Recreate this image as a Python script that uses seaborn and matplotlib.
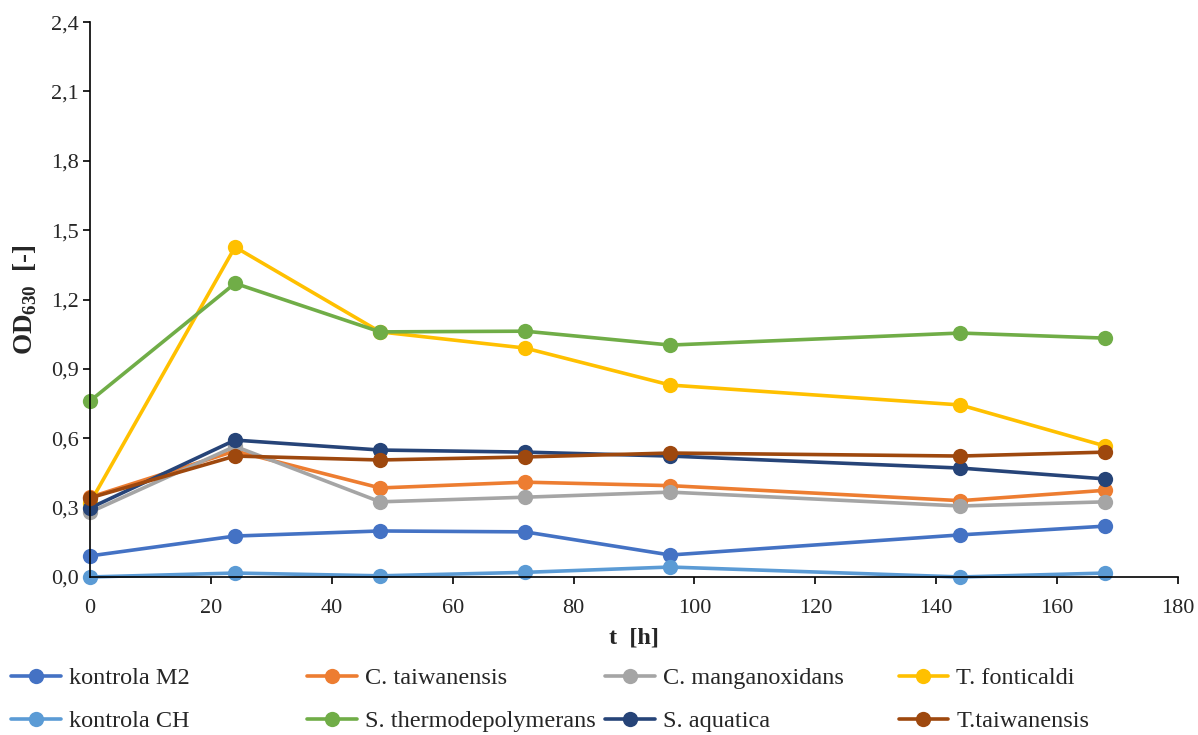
import pandas as pd
import matplotlib.pyplot as plt
import seaborn as sns
from matplotlib.lines import Line2D
from matplotlib.ticker import FuncFormatter

# time points [h]
t = [0, 24, 48, 72, 96, 144, 168]

series_names = ['kontrola M2', 'C. taiwanensis', 'C. manganoxidans', 'T. fonticaldi',
                'kontrola CH', 'S. thermodepolymerans', 'S. aquatica', 'T.taiwanensis']

kontrola_m2 = [0.091, 0.177, 0.199, 0.195, 0.095, 0.182, 0.220]
c_taiwanensis = [0.345, 0.545, 0.385, 0.410, 0.395, 0.330, 0.375]
c_manganoxidans = [0.280, 0.565, 0.325, 0.345, 0.367, 0.307, 0.325]
t_fonticaldi = [0.320, 1.427, 1.060, 0.990, 0.830, 0.744, 0.566]
kontrola_ch = [0.000, 0.017, 0.005, 0.020, 0.043, 0.000, 0.017]
s_thermo = [0.761, 1.270, 1.060, 1.063, 1.003, 1.055, 1.033]
s_aquatica = [0.298, 0.592, 0.549, 0.540, 0.523, 0.471, 0.424]
t_taiwanensis = [0.342, 0.523, 0.506, 0.519, 0.536, 0.523, 0.540]

colors = ['#4472C4', '#ED7D31', '#A5A5A5', '#FFC000',
          '#5B9BD5', '#70AD47', '#264478', '#9E480E']

values = [kontrola_m2, c_taiwanensis, c_manganoxidans, t_fonticaldi,
          kontrola_ch, s_thermo, s_aquatica, t_taiwanensis]

rows = []
for name, vals in zip(series_names, values):
    for ti, v in zip(t, vals):
        rows.append({'t': ti, 'OD': v, 'kmen': name})
df = pd.DataFrame(rows)

sns.set_style('white')
plt.rcParams['font.family'] = ['Liberation Serif', 'DejaVu Serif']
plt.rcParams['mathtext.fontset'] = 'custom'
plt.rcParams['mathtext.rm'] = 'Liberation Serif'
plt.rcParams['mathtext.bf'] = 'Liberation Serif:bold'

fig = plt.figure(figsize=(11.98, 7.35), dpi=100)
ax = fig.add_axes([0.0751, 0.215, 0.9082, 0.755])

palette = dict(zip(series_names, colors))
sns.lineplot(data=df, x='t', y='OD', hue='kmen', hue_order=series_names,
             palette=palette, marker='o', markersize=11, markeredgewidth=0,
             linewidth=2.6, legend=False, ax=ax)

ax.set_xlim(0, 180)
ax.set_ylim(0, 2.4)
ax.set_xticks(range(0, 181, 20))
ax.set_yticks([0, 0.3, 0.6, 0.9, 1.2, 1.5, 1.8, 2.1, 2.4])
ax.yaxis.set_major_formatter(FuncFormatter(lambda v, p: f'{v:.1f}'.replace('.', ',')))
for line in ax.get_lines():
    line.set_clip_on(False)

for side in ['top', 'right']:
    ax.spines[side].set_visible(False)
for side in ['left', 'bottom']:
    ax.spines[side].set_color('black')
    ax.spines[side].set_linewidth(1.2)
ax.tick_params(axis='both', direction='out', length=5, width=1.2, color='black',
               labelsize=16, left=True, bottom=True)
ax.tick_params(axis='x', pad=11)
ax.tick_params(axis='y', pad=3)

ax.set_xlabel('t  [h]', fontsize=17.5, fontweight='bold', labelpad=7)
ax.set_ylabel(r'OD$_{\mathbf{630}}$  [-]', fontsize=19.5, fontweight='bold', labelpad=9)

# legend: 4 columns placed like the original
col_x = [0.009, 0.256, 0.505, 0.750]
for i, x in enumerate(col_x):
    handles = []
    labels = []
    for j in (i, i + 4):
        handles.append(Line2D([], [], color=colors[j], linewidth=2.6,
                              marker='o', markersize=11, markeredgewidth=0))
        labels.append(series_names[j])
    fig.legend(handles, labels, loc='upper left', bbox_to_anchor=(x, 0.092),
               frameon=False, fontsize=17.5, handlelength=2.05, handletextpad=0.33,
               labelspacing=0.86, borderaxespad=0, borderpad=0)

fig.savefig('out.png', dpi=100)
